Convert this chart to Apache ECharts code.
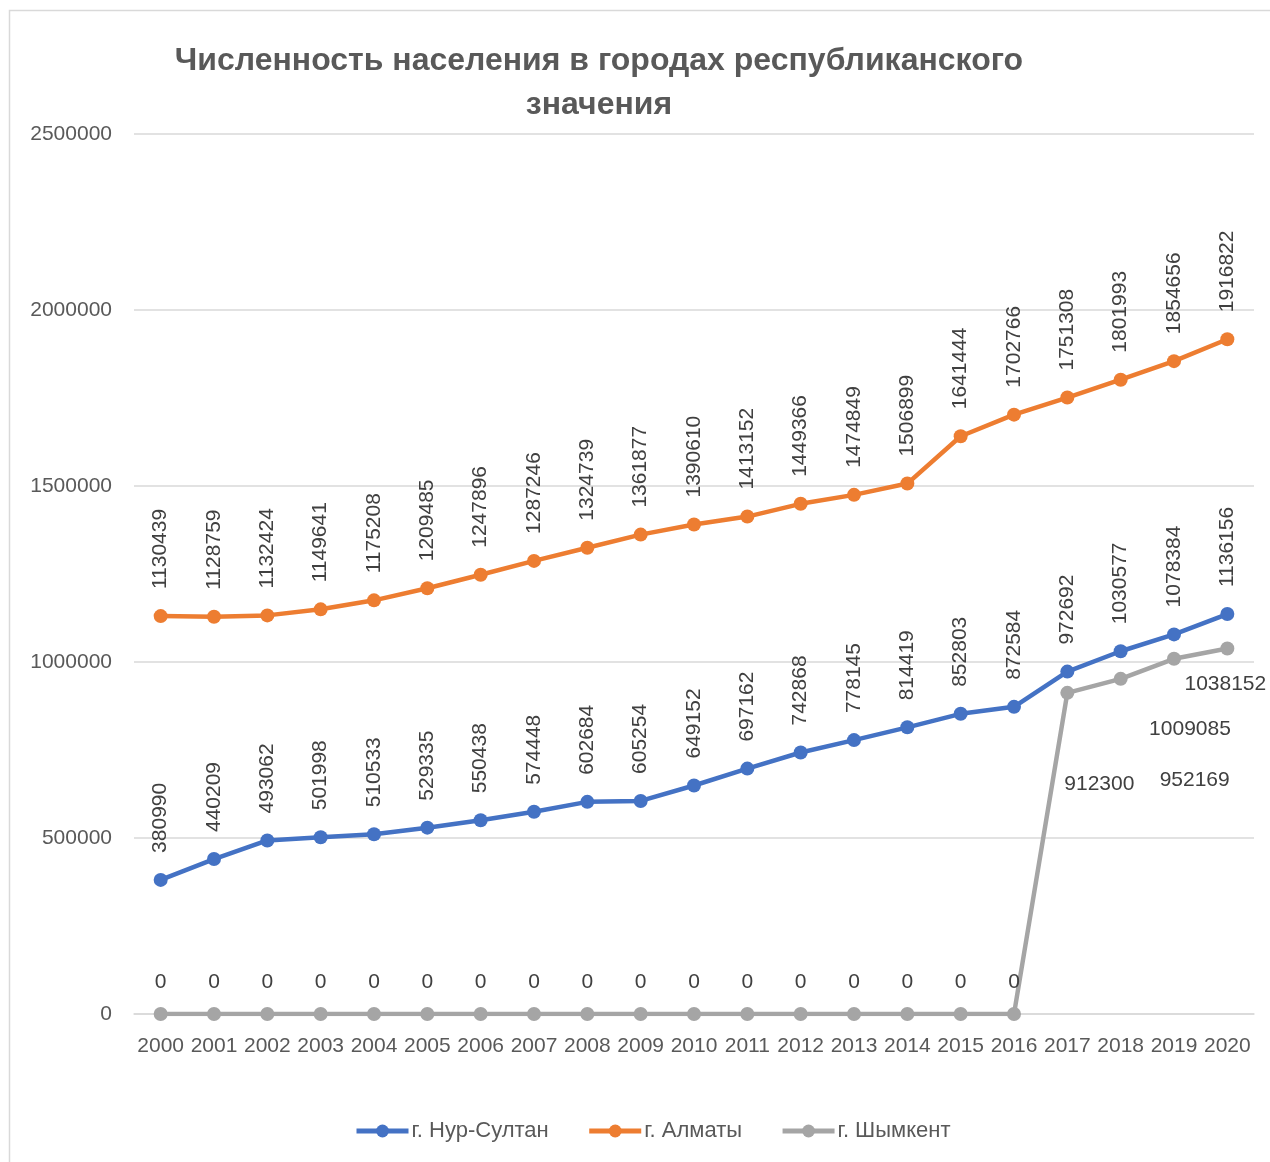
<!DOCTYPE html>
<html><head><meta charset="utf-8">
<script src="https://cdn.jsdelivr.net/npm/echarts@6/dist/echarts.min.js"></script>
<style>html,body{margin:0;padding:0;background:#fff;}#c{width:1270px;height:1162px;}</style>
</head><body><div id="c"></div>
<script>
const years = ['2000','2001','2002','2003','2004','2005','2006','2007','2008','2009','2010','2011','2012','2013','2014','2015','2016','2017','2018','2019','2020'];
const nurSultan = [380990,440209,493062,501998,510533,529335,550438,574448,602684,605254,649152,697162,742868,778145,814419,852803,872584,972692,1030577,1078384,1136156];
const almaty = [1130439,1128759,1132424,1149641,1175208,1209485,1247896,1287246,1324739,1361877,1390610,1413152,1449366,1474849,1506899,1641444,1702766,1751308,1801993,1854656,1916822];
const shymkent = [0,0,0,0,0,0,0,0,0,0,0,0,0,0,0,0,0,912300,952169,1009085,1038152];
const seriesNames = ['г. Нур-Султан','г. Алматы','г. Шымкент'];
const titleText = 'Численность населения в городах республиканского\nзначения';

const FONT = 'Liberation Sans';
const textColor = '#404040';
// manual label offsets for Shymkent labels (moved in the original)
const shymOffsets = {17:[32,91],18:[74,101],19:[16,70],20:[-2,36]};

const chart = echarts.init(document.getElementById('c'));
const rotLabel = {show:true, position:'top', rotate:90, align:'left', verticalAlign:'middle', distance:20,
  color:textColor, fontSize:21, fontFamily:FONT};
const shymData = shymkent.map((v,i)=>{
  if (shymOffsets[i]) return {value:v, label:{position:'inside', offset:shymOffsets[i], distance:0}};
  return v;
});
chart.setOption({
  animation:false,
  textStyle:{fontFamily:FONT},
  title:{text:titleText, left:594, textAlign:'center', top:34,
    textStyle:{fontSize:32, fontWeight:'bold', color:'#595959', fontFamily:FONT, lineHeight:44}},
  graphic:[{type:'rect', shape:{x:9.5,y:10.5,width:1300,height:1300}, style:{fill:null, stroke:'#D9D9D9', lineWidth:1.5}}],
  grid:{left:134, right:16, top:134, bottom:148, containLabel:false},
  legend:{bottom:15, left:349, itemWidth:52, itemHeight:16, itemGap:38,
    lineStyle:{width:5},
    textStyle:{fontSize:22, color:'#595959', fontFamily:FONT, padding:[0,0,0,-2]}},
  xAxis:{type:'category', data:years, boundaryGap:true,
    axisLine:{show:true, lineStyle:{color:'#D9D9D9', width:1.5}}, axisTick:{show:false},
    axisLabel:{color:'#595959', fontSize:21, fontFamily:FONT, margin:22, interval:0}},
  yAxis:{type:'value', min:0, max:2500000, interval:500000,
    axisLine:{show:false}, axisTick:{show:false},
    splitLine:{lineStyle:{color:'#D9D9D9', width:1.5}},
    axisLabel:{color:'#595959', fontSize:21, fontFamily:FONT, margin:22, formatter:v=>String(v)}},
  series:[
    {name:seriesNames[0], type:'line', data:nurSultan, symbol:'circle', symbolSize:14,
      lineStyle:{width:4.5, color:'#4472C4'}, itemStyle:{color:'#4472C4'}, label:rotLabel, z:3},
    {name:seriesNames[1], type:'line', data:almaty, symbol:'circle', symbolSize:14,
      lineStyle:{width:4.5, color:'#ED7D31'}, itemStyle:{color:'#ED7D31'}, label:rotLabel, z:3},
    {name:seriesNames[2], type:'line', data:shymData, symbol:'circle', symbolSize:14,
      lineStyle:{width:4.5, color:'#A5A5A5'}, itemStyle:{color:'#A5A5A5'},
      label:{show:true, position:'top', distance:14, color:textColor, fontSize:21, fontFamily:FONT}, z:2}
  ]
});
</script></body></html>
